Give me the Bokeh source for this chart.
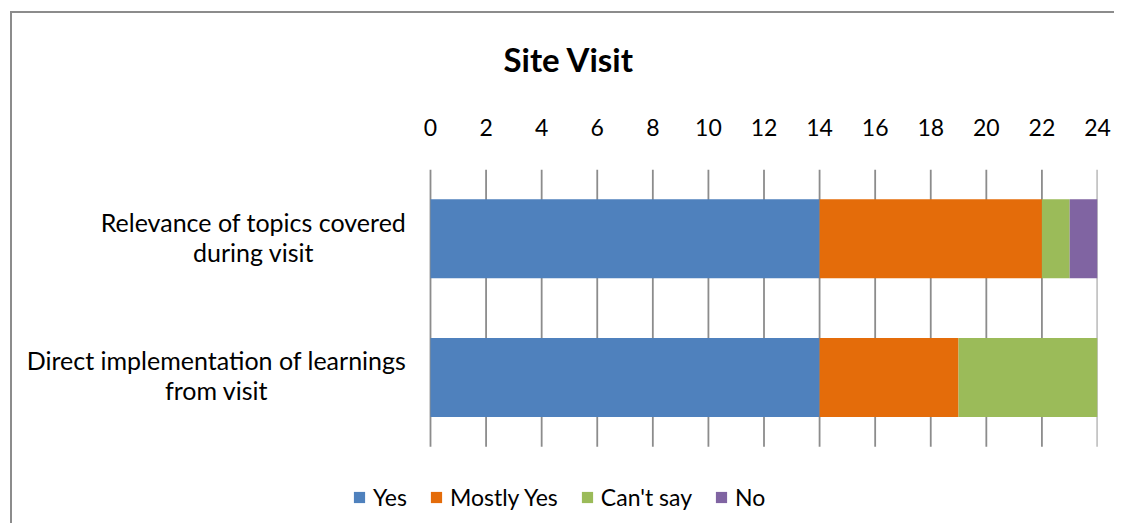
from bokeh.plotting import figure
from bokeh.models import Range1d, FixedTicker, Legend, Title
from bokeh.embed import file_html
from bokeh.resources import INLINE

categories = ["Relevance of topics covered during visit",
              "Direct implementation of learnings from visit"]
category_lines = [["Relevance of topics covered", "during visit"],
                  ["Direct implementation of learnings", "from visit"]]
series = ["Yes", "Mostly Yes", "Can't say", "No"]
yes = [14, 14]
mostly_yes = [8, 5]
cant_say = [1, 5]
no = [1, 0]
ticks = list(range(0, 25, 2))
colors = ["#4F81BD", "#E46C0A", "#9BBB59", "#8064A2"]

FONT = "Lato"
n = len(categories)
ys = [n - 0.5 - i for i in range(n)]

data = {"y": ys, "Yes": yes, "Mostly Yes": mostly_yes, "Can't say": cant_say, "No": no}

# layout: data area x 430..1097 px (0..24), frame starts at 12 px so labels fit inside
px_per_unit = 667 / 24
x_start = -(430 - 12) / px_per_unit

p = figure(width=1114, height=523, output_backend="svg", toolbar_location=None,
           x_range=Range1d(x_start, 24), y_range=Range1d(n - 355 / 139, n),
           x_axis_location="above",
           min_border_left=12, min_border_top=168, min_border_right=17, min_border_bottom=0)
p.border_fill_color = None
p.background_fill_color = None
p.styles = {"box-shadow": "inset 10px 11px 0 0 #ffffff, inset 12px 13px 0 0 #8c8c8c"}

# vertical gridlines over category area only
p.segment(x0=ticks, y0=[0] * len(ticks), x1=ticks, y1=[n] * len(ticks),
          line_color="#8c8c8c", line_width=1.8)

rs = p.hbar_stack(series, y="y", height=0.57, color=colors, source=data, line_width=0)

# category labels (two centred lines each)
lab_text, lab_y, lab_xoff, lab_yoff = [], [], [], []
centers = [-177, -214]
for i, lines in enumerate(category_lines):
    for j, line in enumerate(lines):
        lab_text.append(line)
        lab_y.append(ys[i])
        lab_xoff.append(centers[i])
        lab_yoff.append(-17 + 30 * j)
p.text(x=[0] * len(lab_text), y=lab_y, text=lab_text, x_offset=lab_xoff, y_offset=lab_yoff,
       text_align="center", text_baseline="middle", text_font={"value": FONT},
       text_font_size="25px", text_color="#000000")

p.title = Title(text="Site Visit", align="left", text_font=FONT, text_font_size="33px",
                text_font_style="bold", text_color="#000000", standoff=73, offset=491)

p.xaxis.ticker = FixedTicker(ticks=ticks)
p.xaxis.axis_line_color = None
p.xaxis.major_tick_line_color = None
p.xaxis.minor_tick_line_color = None
p.xaxis.major_label_text_font = FONT
p.xaxis.major_label_text_font_size = "23px"
p.xaxis.major_label_text_color = "#000000"
p.xaxis.major_label_standoff = 28
p.yaxis.visible = False

p.xgrid.grid_line_color = None
p.ygrid.grid_line_color = None
p.outline_line_color = None

legend = Legend(items=[(s, [r]) for s, r in zip(series, rs)], orientation="horizontal",
                location=(340, 12), border_line_color=None, background_fill_alpha=0,
                label_text_font=FONT, label_text_font_size="23px", label_text_color="#000000",
                glyph_width=14, glyph_height=14, spacing=22, label_standoff=7,
                padding=0, margin=0)
p.add_layout(legend)

open("out.html", "w").write(file_html(p, INLINE))
